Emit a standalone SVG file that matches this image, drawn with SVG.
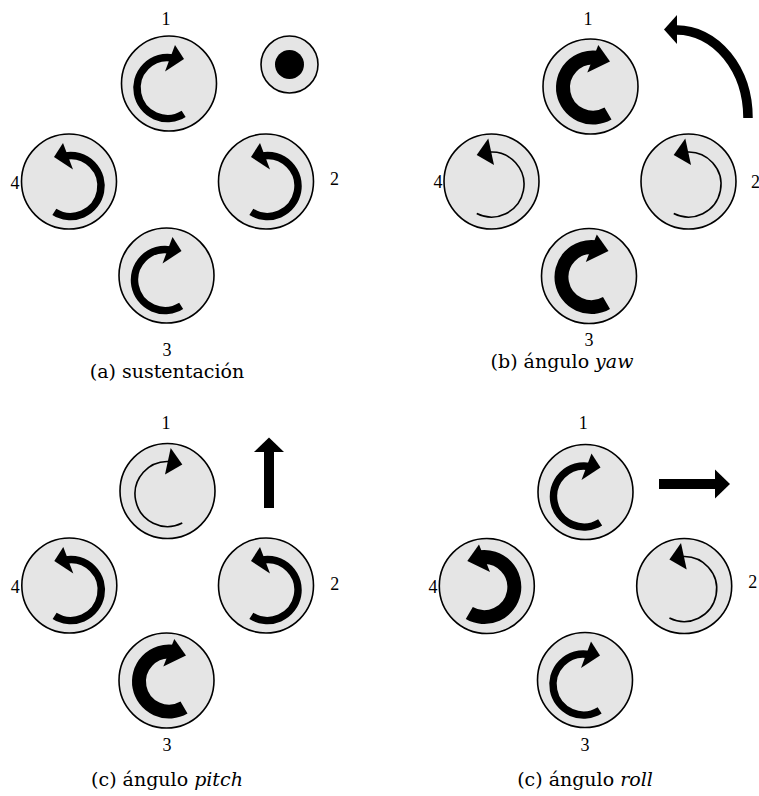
<svg xmlns="http://www.w3.org/2000/svg" xmlns:xlink="http://www.w3.org/1999/xlink" width="759" height="796" viewBox="0 0 759 796">
  <style>
    .rotor { fill: #e5e5e5; stroke: #000; stroke-width: 1.6; }
    .arc { fill: none; stroke: #000; stroke-linecap: butt; }
    .head { fill: #000; }
    .num { font-family: "Liberation Serif", "Times New Roman", serif; font-size: 18px; text-anchor: middle; fill: #000; }
    .cap { font-family: "DejaVu Serif", "Liberation Serif", serif; font-size: 19px; text-anchor: middle; fill: #000; }
    .it { font-style: italic; }
  </style>
  <defs>
    <!-- clockwise rotation glyphs, centred on the rotor; mirrored for counter-clockwise -->
    <g id="cw-thin">
      <path class="arc" stroke-width="1.6" d="M14.76 31.96 A32.5 32.5 0 1 1 2.83 -29.38"/>
      <polygon class="head" points="3.2,-43 14.8,-26.5 -2.5,-16.5"/>
    </g>
    <g id="cw-med">
      <path class="arc" stroke-width="7.5" d="M14.66 30.37 A30.5 30.5 0 1 1 3.8 -25.54"/>
      <polygon class="head" points="6,-38.5 15,-24.5 -4,-12"/>
    </g>
    <g id="cw-thick">
      <path class="arc" stroke-width="14" d="M17.5 26.98 A30 30 0 1 1 6.67 -28.7"/>
      <polygon class="head" points="7.8,-41.5 19.5,-25 -3.2,-14"/>
    </g>
  </defs>

  <!-- (a) sustentación -->
  <g id="a-rotor1"><circle class="rotor" cx="169" cy="83.5" r="47.5"/><use xlink:href="#cw-med" transform="translate(169 83.5)"/></g>
  <g id="a-rotor2"><circle class="rotor" cx="266" cy="181.5" r="47.5"/><use xlink:href="#cw-med" transform="translate(266 181.5) scale(-1 1)"/></g>
  <g id="a-rotor3"><circle class="rotor" cx="166.5" cy="275.5" r="47.5"/><use xlink:href="#cw-med" transform="translate(166.5 275.5)"/></g>
  <g id="a-rotor4"><circle class="rotor" cx="69" cy="181.5" r="47.5"/><use xlink:href="#cw-med" transform="translate(69 181.5) scale(-1 1)"/></g>
  <g id="a-up">
    <circle class="rotor" cx="289.5" cy="64.5" r="28.5"/>
    <circle cx="289.5" cy="64.5" r="14.5" fill="#000"/>
  </g>
  <g id="a-labels">
    <text class="num" x="166" y="25">1</text>
    <text class="num" x="334.5" y="185">2</text>
    <text class="num" x="167" y="356">3</text>
    <text class="num" x="15" y="189">4</text>
    <text class="cap" x="167" y="378">(a) sustentación</text>
  </g>

  <!-- (b) yaw -->
  <g id="b-rotor1"><circle class="rotor" cx="590.5" cy="86.5" r="47.5"/><use xlink:href="#cw-thick" transform="translate(590.5 86.5)"/></g>
  <g id="b-rotor2"><circle class="rotor" cx="688.5" cy="181.5" r="47.5"/><use xlink:href="#cw-thin" transform="translate(688.5 181.5) scale(-1 1)"/></g>
  <g id="b-rotor3"><circle class="rotor" cx="589" cy="276" r="47.5"/><use xlink:href="#cw-thick" transform="translate(589 276)"/></g>
  <g id="b-rotor4"><circle class="rotor" cx="491.5" cy="181.5" r="47.5"/><use xlink:href="#cw-thin" transform="translate(491.5 181.5) scale(-1 1)"/></g>
  <g id="b-turn">
    <path class="arc" stroke-width="9.5" d="M748 118 A71 88 0 0 0 677 30"/>
    <polygon class="head" points="677,15 664,29.5 677,44"/>
  </g>
  <g id="b-labels">
    <text class="num" x="588" y="25">1</text>
    <text class="num" x="755.5" y="188" text-anchor="start">2</text>
    <text class="num" x="589" y="346">3</text>
    <text class="cap" x="562" y="368">(b) ángulo <tspan class="it">yaw</tspan></text>
    <text class="num" x="438" y="188">4</text>
  </g>

  <!-- (c) pitch -->
  <g id="c-rotor1"><circle class="rotor" cx="167.5" cy="491" r="47.5"/><use xlink:href="#cw-thin" transform="translate(167.5 491)"/></g>
  <g id="c-rotor2"><circle class="rotor" cx="266" cy="585.5" r="47.5"/><use xlink:href="#cw-med" transform="translate(266 585.5) scale(-1 1)"/></g>
  <g id="c-rotor3"><circle class="rotor" cx="166.5" cy="680.5" r="47.5"/><use xlink:href="#cw-thick" transform="translate(166.5 680.5)"/></g>
  <g id="c-rotor4"><circle class="rotor" cx="69.3" cy="585.5" r="47.5"/><use xlink:href="#cw-med" transform="translate(69.3 585.5) scale(-1 1)"/></g>
  <g id="c-forward">
    <rect x="264" y="451" width="10" height="57" fill="#000"/>
    <polygon class="head" points="254,452 269,437.5 284,452"/>
  </g>
  <g id="c-labels">
    <text class="num" x="166" y="429">1</text>
    <text class="num" x="334.7" y="590">2</text>
    <text class="num" x="167" y="751">3</text>
    <text class="num" x="15.3" y="593">4</text>
    <text class="cap" x="167" y="786">(c) ángulo <tspan class="it">pitch</tspan></text>
  </g>

  <!-- (d) roll -->
  <g id="d-rotor1"><circle class="rotor" cx="585.5" cy="492" r="47.5"/><use xlink:href="#cw-med" transform="translate(585.5 492)"/></g>
  <g id="d-rotor2"><circle class="rotor" cx="684.2" cy="586" r="47.5"/><use xlink:href="#cw-thin" transform="translate(684.2 586) scale(-1 1)"/></g>
  <g id="d-rotor3"><circle class="rotor" cx="585" cy="680" r="47.5"/><use xlink:href="#cw-med" transform="translate(585 680)"/></g>
  <g id="d-rotor4"><circle class="rotor" cx="486.8" cy="586" r="47.5"/><use xlink:href="#cw-thick" transform="translate(486.8 586) scale(-1 1)"/></g>
  <g id="d-side">
    <rect x="659" y="479" width="57" height="10" fill="#000"/>
    <polygon class="head" points="715,469.5 730,484 715,498.5"/>
  </g>
  <g id="d-labels">
    <text class="num" x="583.3" y="429">1</text>
    <text class="num" x="752.8" y="588">2</text>
    <text class="num" x="585" y="751">3</text>
    <text class="num" x="433" y="592.7">4</text>
    <text class="cap" x="585" y="786">(c) ángulo <tspan class="it">roll</tspan></text>
  </g>
</svg>
